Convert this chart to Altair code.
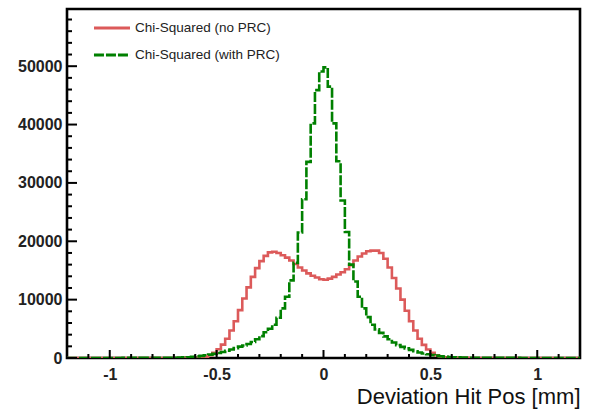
import altair as alt
import pandas as pd

# Histogram definition: 120 bins of width 0.02 from -1.2 to 1.2
X_MIN, X_MAX, N_BINS = -1.2, 1.2, 120
BIN_W = (X_MAX - X_MIN) / N_BINS

series_names = ["Chi-Squared (no PRC)", "Chi-Squared (with PRC)"]
series_colors = ["#dc5a5a", "#008000"]

no_prc = [
    2, 2, 2, 2, 2, 3, 3, 3, 3, 3, 3, 4, 4, 4, 4, 5, 5, 5, 6, 6, 7, 7, 8, 8, 9,
    10, 12, 15, 20, 30, 50, 100, 230, 480, 900, 1500, 2300, 3300, 4700, 6300,
    8200, 10200, 12100, 13900, 15400, 16600, 17500, 18100, 18200, 18000,
    17600, 17200, 16700, 16100, 15500, 15000, 14500, 14100, 13800, 13500,
    13400, 13600, 13900, 14300, 14700, 15200, 15900, 16700, 17400, 17900,
    18300, 18400, 18400, 18000, 17000, 15500, 13700, 11900, 10000, 8100,
    6300, 4700, 3300, 2250, 1450, 870, 480, 250, 130, 70,
    40, 25, 18, 14, 11,
    9, 8, 8, 7, 6, 6, 5, 5, 5, 4, 4, 4, 4, 3, 3, 3, 3, 3, 3, 2, 2, 2, 2, 2, 2,
]

with_prc = [
    5, 5, 6, 6, 7, 7, 8, 8, 9, 10, 10, 11, 12, 13, 14, 15, 16, 18, 20, 22, 24, 27, 30, 35, 42,
    50, 70, 100, 140, 200, 280, 360, 470, 580, 700, 850, 1020, 1230, 1450, 1700,
    1950, 2150, 2400, 2750, 3200, 3750, 4400, 5000, 5700, 6900,
    8500, 10500, 13300, 16300, 21500, 27200, 33600, 40200, 45900, 49100,
    49800, 46500, 40200, 33700, 27000, 21600, 16000, 13100, 10500, 8500,
    7000, 5700, 4900, 4300, 3700, 3200, 2650, 2200, 1900, 1650,
    1400, 1150, 950, 780, 640, 500, 400, 310, 240, 180,
    130, 100, 80, 60, 50,
    42, 36, 31, 27, 24, 21, 19, 17, 15, 14, 13, 12, 11, 10, 9, 9, 8, 8, 7, 7, 6, 6, 5, 5, 5,
]

x_major = [-1, -0.5, 0, 0.5, 1]
x_minor = [-1.1, -0.9, -0.8, -0.7, -0.6, -0.4, -0.3, -0.2, -0.1,
           0.1, 0.2, 0.3, 0.4, 0.6, 0.7, 0.8, 0.9, 1.1]
y_major = [0, 10000, 20000, 30000, 40000, 50000]
y_minor = [v for v in range(2000, 60000, 2000) if v % 10000 != 0]

rows = []
for name, vals in zip(series_names, [no_prc, with_prc]):
    for k in range(N_BINS + 1):
        rows.append({"series": name,
                     "x": X_MIN + k * BIN_W,
                     "y": vals[min(k, N_BINS - 1)],
                     "o": k})
df = pd.DataFrame(rows)

FONT = "Liberation Sans"
W, H = 513, 349
xs = alt.Scale(domain=[X_MIN, X_MAX], nice=False, zero=False)
ys = alt.Scale(domain=[0, 59800], nice=False, zero=False)

leg = alt.Legend(title=None, orient="none", legendX=25, legendY=-1,
                 symbolType="stroke", symbolSize=1300, symbolStrokeWidth=3,
                 labelFont=FONT, labelFontSize=13.5, labelColor="#222222",
                 rowPadding=-17, labelOffset=3, padding=0)

lines = alt.Chart(df).mark_line(
    interpolate="step-after", strokeWidth=2.6, clip=True, strokeJoin="miter"
).encode(
    x=alt.X("x:Q", scale=xs, axis=alt.Axis(
        values=x_major, ticks=False, domain=False, grid=False,
        labelExpr="datum.value + ''", labelFont=FONT, labelFontSize=16,
        labelFontWeight="bold", labelColor="#222222", labelPadding=8,
        labelFlush=False,
        title="Deviation Hit Pos [mm]", titleFont=FONT, titleFontSize=22,
        titleFontWeight="normal", titleColor="#111111",
        titleAnchor="end", titleAlign="right", titleX=W, titleY=45,
        titleBaseline="alphabetic")),
    y=alt.Y("y:Q", scale=ys, axis=alt.Axis(
        values=y_major, format="d", ticks=False, domain=False, grid=False,
        labelFont=FONT, labelFontSize=16, labelFontWeight="bold",
        labelColor="#222222", labelPadding=5, title=None)),
    color=alt.Color("series:N", scale=alt.Scale(domain=series_names, range=series_colors), legend=leg),
    strokeDash=alt.StrokeDash("series:N", scale=alt.Scale(domain=series_names, range=[[1, 0], [10, 2]]), legend=leg),
    order=alt.Order("o:Q"),
)

def tick_df(vals):
    return pd.DataFrame({"v": vals})

xt_major = alt.Chart(tick_df(x_major)).mark_rule(color="black", strokeWidth=2).encode(
    x=alt.X("v:Q", scale=xs, axis=None), y=alt.value(H), y2=alt.value(H - 8))
xt_minor = alt.Chart(tick_df(x_minor)).mark_rule(color="black", strokeWidth=2).encode(
    x=alt.X("v:Q", scale=xs, axis=None), y=alt.value(H), y2=alt.value(H - 4))
yt_major = alt.Chart(tick_df(y_major)).mark_rule(color="black", strokeWidth=2).encode(
    y=alt.Y("v:Q", scale=ys, axis=None), x=alt.value(0), x2=alt.value(10))
yt_minor = alt.Chart(tick_df(y_minor)).mark_rule(color="black", strokeWidth=2).encode(
    y=alt.Y("v:Q", scale=ys, axis=None), x=alt.value(0), x2=alt.value(5))

chart = alt.layer(lines, xt_major, xt_minor, yt_major, yt_minor).resolve_axis(
    x="independent", y="independent"
).properties(
    width=W, height=H,
    autosize=alt.AutoSizeParams(type="none"),
    padding={"left": 67, "top": 9, "right": 10, "bottom": 52},
    background="white",
).configure_view(stroke="black", strokeWidth=2.6)

chart.save("out.html", embed_options={"renderer": "svg", "actions": False})
